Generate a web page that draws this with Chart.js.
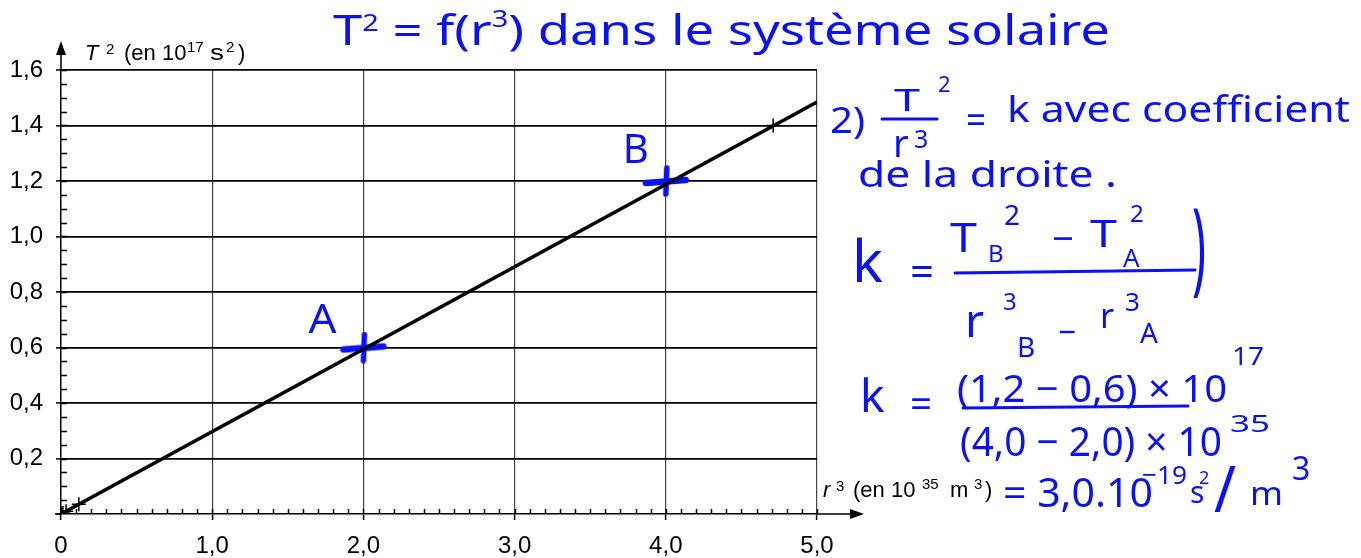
<!DOCTYPE html>
<html><head><meta charset="utf-8">
<script src="https://cdn.jsdelivr.net/npm/chart.js@4.4.1/dist/chart.umd.min.js"></script>
<style>html,body{margin:0;padding:0;background:#fff;overflow:hidden}#wrap{width:1361px;height:558px}</style>
</head><body><div id="wrap"><canvas id="c" width="1361" height="558"></canvas></div>
<script>
// Planets: Mercury, Venus, Earth, Mars, Jupiter
// r^3 in 10^35 m^3, T^2 in 10^17 s^2
const planetR3 = [0.0019, 0.0126, 0.0335, 0.118, 4.71];
const planetT2 = [0.0006, 0.0038, 0.0100, 0.0353, 1.40];
// straight line through the origin
const fitR3 = [0, 5.0];
const fitT2 = [0, 1.485];
// two points read on the line to get its slope
const pointNames = ['A', 'B'];
const pointR3 = [2.0, 4.0];
const pointT2 = [0.6, 1.2];
// axis ranges and tick steps
const xRange = [0, 5];
const yRange = [0, 1.6];
const xStep = 1, xMinor = 0.1;
const yStep = 0.2, yMinor = 0.05;

const INK = '#0b12f2';
const HAND = '"Noto Sans", "DejaVu Sans", sans-serif';
const LABEL = '"Liberation Sans", Arial, sans-serif';

function fmt(v) {
  if (Math.abs(v) < 1e-9) return '0';
  return v.toFixed(1).replace('.', ',');
}

// thick hand-drawn cross used for A and B
function makeCross() {
  const cv = document.createElement('canvas');
  cv.width = 48; cv.height = 32;
  const g = cv.getContext('2d');
  g.strokeStyle = INK; g.lineCap = 'round'; g.lineWidth = 6.5;
  g.beginPath(); g.moveTo(4, 18); g.lineTo(44, 15); g.stroke();
  g.lineWidth = 5.5;
  g.beginPath(); g.moveTo(25, 3); g.lineTo(24, 29); g.stroke();
  return cv;
}

// one piece of text; optional width squeezes/stretches it horizontally
function txt(ctx, s, x, y, font, color, width, sy) {
  ctx.save();
  ctx.font = font; ctx.fillStyle = color;
  ctx.textAlign = 'left'; ctx.textBaseline = 'alphabetic';
  const w = ctx.measureText(s).width;
  ctx.translate(x, y);
  ctx.scale(width ? width / w : 1, sy || 1);
  ctx.fillText(s, 0, 0);
  ctx.restore();
}
// a run of text pieces [text, sizeFactor, raise] fitted to a given width
function runFit(ctx, x, y, segs, size, width) {
  ctx.save();
  let w = 0;
  for (const [t, f = 1] of segs) { ctx.font = (size * f) + 'px ' + HAND; w += ctx.measureText(t).width; }
  ctx.translate(x, y);
  ctx.scale(width / w, 1);
  ctx.fillStyle = INK; ctx.textBaseline = 'alphabetic';
  let cx = 0;
  for (const [t, f = 1, r = 0] of segs) {
    ctx.font = (size * f) + 'px ' + HAND;
    ctx.fillText(t, cx, -r * size);
    cx += ctx.measureText(t).width;
  }
  ctx.restore();
}
function line(ctx, x1, y1, x2, y2, w, c) {
  ctx.save(); ctx.strokeStyle = c; ctx.lineWidth = w; ctx.lineCap = 'round';
  ctx.beginPath(); ctx.moveTo(x1, y1); ctx.lineTo(x2, y2); ctx.stroke(); ctx.restore();
}

const axesDecor = {
  id: 'axesDecor',
  afterDatasetsDraw(chart) {
    const ctx = chart.ctx;
    const xs = chart.scales.x, ys = chart.scales.y;
    const x0 = xs.getPixelForValue(0), y0 = ys.getPixelForValue(0);
    ctx.save();
    ctx.strokeStyle = '#000'; ctx.lineWidth = 1.5;
    // minor ticks
    ctx.beginPath();
    for (let v = xMinor; v < xRange[1] + 1e-9; v += xMinor) {
      const p = Math.round(xs.getPixelForValue(v)) + 0.5;
      ctx.moveTo(p, y0); ctx.lineTo(p, y0 - 5);
    }
    for (let v = yMinor; v < yRange[1] + 1e-9; v += yMinor) {
      const p = Math.round(ys.getPixelForValue(v)) + 0.5;
      ctx.moveTo(x0, p); ctx.lineTo(x0 + 6, p);
    }
    ctx.stroke();
    // axis extensions with arrows
    ctx.beginPath();
    ctx.moveTo(x0, ys.getPixelForValue(yRange[1])); ctx.lineTo(x0, 50);
    ctx.moveTo(xs.getPixelForValue(xRange[1]), y0); ctx.lineTo(855, y0);
    ctx.moveTo(55, y0); ctx.lineTo(x0, y0);
    ctx.stroke();
    ctx.fillStyle = '#000';
    ctx.beginPath(); ctx.moveTo(x0, 41); ctx.lineTo(x0 - 5, 55); ctx.lineTo(x0 + 5, 55); ctx.closePath(); ctx.fill();
    ctx.beginPath(); ctx.moveTo(864, y0); ctx.lineTo(850, y0 - 5); ctx.lineTo(850, y0 + 5); ctx.closePath(); ctx.fill();
    ctx.restore();

    // axis titles
    const F = '22px ' + LABEL, FS = '15px ' + LABEL, K = '#000';
    txt(ctx, 'T', 85, 60, 'italic ' + F, K);
    txt(ctx, '2', 106, 54, FS, K);
    txt(ctx, '(en 10', 124, 60, F, K);
    txt(ctx, '17', 187, 52, FS, K);
    txt(ctx, 's', 210, 60, F, K, 14);
    txt(ctx, '2', 226, 52, FS, K);
    txt(ctx, ')', 238, 60, F, K);

    txt(ctx, 'r', 823, 497, 'italic ' + F, K);
    txt(ctx, '3', 836, 491, FS, K);
    txt(ctx, '(en 10', 853, 497, F, K);
    txt(ctx, '35', 922, 489, FS, K);
    txt(ctx, 'm', 950, 497, F, K);
    txt(ctx, '3', 974, 489, FS, K);
    txt(ctx, ')', 985, 497, F, K);

    // point names
    const meta = chart.getDatasetMeta(2);
    const HF = s => s + 'px ' + HAND;
    txt(ctx, pointNames[0], meta.data[0].x - 55, meta.data[0].y - 15, HF(40), INK, 28);
    txt(ctx, pointNames[1], meta.data[1].x - 43, meta.data[1].y - 18, HF(40), INK, 26);

    // handwritten notes
    runFit(ctx, 333, 45, [['T'], ['2', 0.55, 0.33], [' = f(r'], ['3', 0.55, 0.42], [') dans le système solaire']], 42, 777);

    txt(ctx, '2)', 830, 133, HF(36), INK, 35);
    txt(ctx, 'T', 894, 111, HF(30), INK, 26);
    txt(ctx, '2', 938, 92, HF(22), INK);
    line(ctx, 882, 119, 937, 119, 3, INK);
    txt(ctx, 'r', 893, 157, HF(38), INK);
    txt(ctx, '3', 914, 148, HF(25), INK);
    txt(ctx, '=', 966, 134, HF(40), INK, 20);
    txt(ctx, 'k avec coefficient', 1007, 122, HF(37), INK, 343);
    txt(ctx, 'de la droite .', 858, 187, HF(37), INK, 259);

    txt(ctx, 'k', 852, 282, HF(58), INK);
    txt(ctx, '=', 910, 286, HF(42), INK, 24);
    txt(ctx, 'T', 950, 252, HF(40), INK, 27);
    txt(ctx, 'B', 988, 262, HF(24), INK);
    txt(ctx, '2', 1004, 225, HF(28), INK);
    txt(ctx, '−', 1052, 252, HF(38), INK, 22);
    txt(ctx, 'T', 1090, 247, HF(38), INK, 27);
    txt(ctx, 'A', 1123, 267, HF(26), INK);
    txt(ctx, '2', 1130, 222, HF(24), INK);
    line(ctx, 955, 273, 1195, 270, 3, INK);
    txt(ctx, 'r', 965, 337, HF(46), INK);
    txt(ctx, '3', 1003, 310, HF(24), INK);
    txt(ctx, 'B', 1017, 357, HF(28), INK);
    txt(ctx, '−', 1058, 344, HF(34), INK, 18);
    txt(ctx, 'r', 1100, 328, HF(34), INK);
    txt(ctx, '3', 1125, 311, HF(26), INK);
    txt(ctx, 'A', 1140, 343, HF(28), INK);
    txt(ctx, ')', 1192, 282, HF(32), INK, 14, 3.2);

    txt(ctx, 'k', 860, 412, HF(46), INK);
    txt(ctx, '=', 910, 418, HF(40), INK, 22);
    txt(ctx, '(1,2 − 0,6) × 10', 957, 402, HF(38), INK, 270);
    txt(ctx, '17', 1232, 365, HF(26), INK, 32);
    line(ctx, 963, 408, 1188, 406, 3, INK);
    txt(ctx, '(4,0 − 2,0) × 10', 960, 456, HF(40), INK, 262);
    txt(ctx, '35', 1230, 432, HF(24), INK, 40);
    txt(ctx, '= 3,0.10', 1003, 507, HF(40), INK, 150);
    txt(ctx, '−19', 1142, 484, HF(26), INK, 45);
    txt(ctx, 's', 1190, 503, HF(30), INK);
    txt(ctx, '2', 1199, 484, HF(18), INK);
    txt(ctx, '/', 1214, 512, HF(46), INK, 22, 1.4);
    txt(ctx, 'm', 1250, 505, HF(32), INK, 33);
    txt(ctx, '3', 1292, 480, HF(32), INK);
  }
};

const ptCross = makeCross();

new Chart(document.getElementById('c'), {
  type: 'scatter',
  data: {
    datasets: [
      {
        type: 'line',
        data: fitR3.map((x, i) => ({ x, y: fitT2[i] })),
        borderColor: '#000', borderWidth: 3.5, pointRadius: 0, fill: false
      },
      {
        data: planetR3.map((x, i) => ({ x, y: planetT2[i] })),
        pointStyle: 'cross', pointRadius: 7, borderColor: '#000', borderWidth: 1.5,
        backgroundColor: '#000'
      },
      {
        data: pointR3.map((x, i) => ({ x, y: pointT2[i] })),
        pointStyle: ptCross, pointRadius: 16
      }
    ]
  },
  options: {
    responsive: false, animation: false, devicePixelRatio: 1,
    layout: { padding: { top: 70, right: 544, left: 0, bottom: 0 } },
    plugins: { legend: { display: false }, tooltip: { enabled: false } },
    scales: {
      x: {
        type: 'linear', min: xRange[0], max: xRange[1],
        afterFit: s => { s.height = 44; },
        ticks: { stepSize: xStep, callback: v => fmt(v), color: '#000', padding: 12,
          font: { family: LABEL, size: 24 } },
        grid: { color: c => (c.tick && c.tick.value === 0) ? 'rgba(0,0,0,0)' : '#444',
          lineWidth: 1.2, tickLength: 6, tickColor: '#000', tickWidth: 1.5 },
        border: { color: '#000', width: 1.5 }
      },
      y: {
        type: 'linear', min: yRange[0], max: yRange[1],
        afterFit: s => { s.width = 61; },
        ticks: { stepSize: yStep, callback: v => (v < 1e-6 ? '' : fmt(v)), color: '#000', padding: 13,
          font: { family: LABEL, size: 24 } },
        grid: { color: c => (c.tick && c.tick.value === 0) ? 'rgba(0,0,0,0)' : '#000',
          lineWidth: 1.8, tickLength: 5, tickColor: '#000', tickWidth: 1.5 },
        border: { color: '#000', width: 1.5 }
      }
    }
  },
  plugins: [axesDecor]
});
</script>
</body></html>
